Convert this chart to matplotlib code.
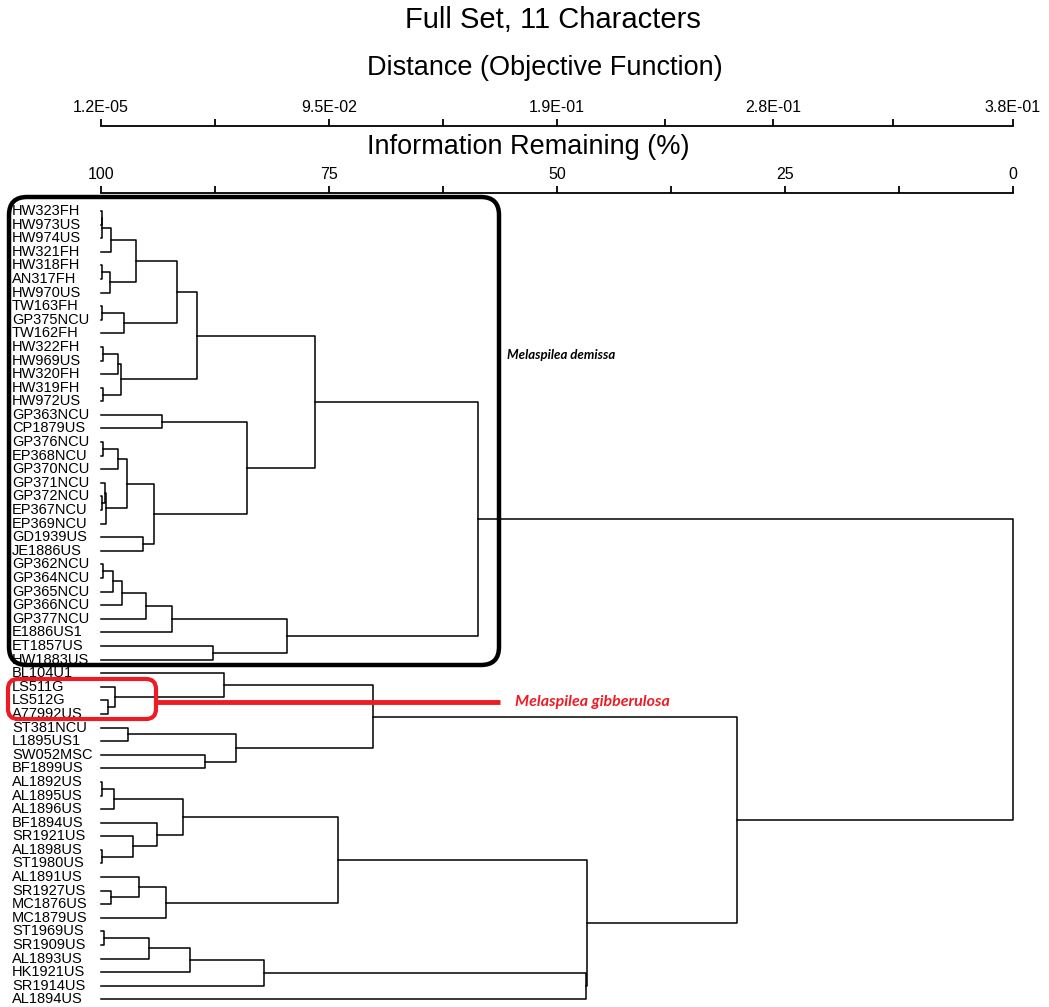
import matplotlib
matplotlib.use('Agg')
import matplotlib.pyplot as plt
from matplotlib.patches import FancyBboxPatch
from matplotlib.transforms import blended_transform_factory

plt.rcParams['font.family'] = ['Liberation Sans', 'DejaVu Sans']

leaf_labels = [
    'HW323FH', 'HW973US', 'HW974US', 'HW321FH', 'HW318FH', 'AN317FH',
    'HW970US', 'TW163FH', 'GP375NCU', 'TW162FH', 'HW322FH', 'HW969US',
    'HW320FH', 'HW319FH', 'HW972US', 'GP363NCU', 'CP1879US', 'GP376NCU',
    'EP368NCU', 'GP370NCU', 'GP371NCU', 'GP372NCU', 'EP367NCU', 'EP369NCU',
    'GD1939US', 'JE1886US', 'GP362NCU', 'GP364NCU', 'GP365NCU', 'GP366NCU',
    'GP377NCU', 'E1886US1', 'ET1857US', 'HW1883US', 'BL104U1', 'LS511G',
    'LS512G', 'A77992US', 'ST381NCU', 'L1895US1', 'SW052MSC', 'BF1899US',
    'AL1892US', 'AL1895US', 'AL1896US', 'BF1894US', 'SR1921US', 'AL1898US',
    'ST1980US', 'AL1891US', 'SR1927US', 'MC1876US', 'MC1879US', 'ST1969US',
    'SR1909US', 'AL1893US', 'HK1921US', 'SR1914US', 'AL1894US',
]

# agglomeration steps: leaves are 0..58, each merge makes node 59, 60, ...
merge_a = [0, 59, 60, 4, 62, 61, 7, 65, 64, 10, 68, 13, 69, 67, 15, 17, 74,
           21, 20, 77, 75, 24, 79, 73, 72, 26, 84, 85, 86, 87, 32, 88, 83,
           36, 35, 34, 38, 40, 95, 94, 42, 99, 47, 46, 45, 100, 50, 49, 106,
           104, 53, 109, 110, 111, 112, 108, 98, 91]
merge_b = [1, 2, 3, 5, 6, 63, 8, 9, 66, 11, 12, 14, 70, 71, 16, 18, 19,
           22, 76, 23, 78, 25, 80, 81, 82, 27, 28, 29, 30, 31, 33, 89, 90,
           37, 92, 93, 39, 41, 96, 97, 43, 44, 48, 101, 102, 103, 51, 105, 52,
           107, 54, 55, 56, 57, 58, 113, 114, 115]
# information remaining (%) at each merge
merge_info = [99.92, 99.84, 98.9, 99.9, 99.0, 96.2, 99.9, 97.48, 91.7,
              99.78, 98.17, 99.78, 97.8, 89.5, 93.34, 99.78, 98.14,
              99.92, 99.55, 99.4, 97.18, 95.36, 94.16, 84.0, 76.5,
              99.78, 98.65, 97.73, 95.07, 92.18, 87.7, 79.6, 58.7,
              99.2, 98.46, 86.5, 97.0, 88.6, 85.2, 70.2,
              99.92, 98.54, 99.84, 96.52, 93.9, 91.04, 98.9, 95.8, 92.87,
              74.0, 99.67, 94.7, 90.24, 82.1, 46.8, 46.7, 30.3, 0.0]

info_ticks = [100, 75, 50, 25, 0]
dist_ticks = [1.2e-05, 9.5e-02, 1.9e-01, 2.8e-01, 3.8e-01]

W, H = 1049, 1007
fig = plt.figure(figsize=(W / 100, H / 100), dpi=100)

# main dendrogram axes
ax = fig.add_axes([101 / W, (H - 1005) / H, 912 / W, 808 / H])
ax.set_xlim(100, 0)
ax.set_ylim(58.41, -1.03)
ax.axis('off')

n = len(leaf_labels)
node_y = list(range(n))
node_h = [100.0] * n
for a, b, h in zip(merge_a, merge_b, merge_info):
    ax.plot([node_h[a], h, h, node_h[b]],
            [node_y[a], node_y[a], node_y[b], node_y[b]],
            color='black', lw=1.1, clip_on=False)
    node_y.append((node_y[a] + node_y[b]) / 2)
    node_h.append(h)

trans = blended_transform_factory(fig.transFigure, ax.transData)
for i, lab in enumerate(leaf_labels):
    ax.text(12 / W, i, lab, transform=trans, ha='left', va='center',
            fontsize=10.5, color='black')


def scale_axis(ypix, lim, major, labels):
    a = fig.add_axes([101 / W, 1 - ypix / H, 912 / W, 1e-4])
    a.set_xlim(*lim)
    a.patch.set_visible(False)
    for s in ['left', 'right', 'bottom']:
        a.spines[s].set_visible(False)
    a.spines['top'].set_linewidth(1.3)
    a.xaxis.tick_top()
    a.set_yticks([])
    a.set_xticks(major)
    a.set_xticklabels(labels)
    a.set_xticks([(major[k] + major[k + 1]) / 2
                  for k in range(len(major) - 1)], minor=True)
    a.tick_params(axis='x', which='both', direction='out', length=5,
                  width=1.3, pad=3, labelsize=11.5)
    return a


scale_axis(193, (100, 0), info_ticks, [str(v) for v in info_ticks])
scale_axis(126, (dist_ticks[0], dist_ticks[-1]), dist_ticks,
           ['%.1E' % v for v in dist_ticks])

fig.text(553 / W, 1 - 20 / H, 'Full Set, 11 Characters', ha='center',
         va='center', fontsize=21)
fig.text(545 / W, 1 - 68 / H, 'Distance (Objective Function)', ha='center',
         va='center', fontsize=19.5)
fig.text(528 / W, 1 - 147 / H, 'Information Remaining (%)', ha='center',
         va='center', fontsize=19.5)

# overlay in pixel space for the highlight boxes
ov = fig.add_axes([0, 0, 1, 1])
ov.set_xlim(0, W)
ov.set_ylim(H, 0)
ov.axis('off')
ov.patch.set_visible(False)
red = '#ed1c24'
ov.add_patch(FancyBboxPatch((9, 197), 490, 468,
                            boxstyle='round,pad=0,rounding_size=18',
                            fill=False, lw=3.2, ec='black'))
ov.add_patch(FancyBboxPatch((8, 679), 148, 40,
                            boxstyle='round,pad=0,rounding_size=10',
                            fill=False, lw=3, ec=red))
ov.plot([156, 500], [702, 702], color=red, lw=3.5, solid_capstyle='butt')
ov.text(507, 355, 'Melaspilea demissa', ha='left', va='center',
        fontsize=9.5, fontweight='bold', fontstyle='italic',
        family=['Lato', 'DejaVu Sans'])
ov.text(515, 702, 'Melaspilea gibberulosa', ha='left', va='center',
        fontsize=11.5, fontweight='bold', fontstyle='italic', color=red,
        family=['Lato', 'DejaVu Sans'])

fig.savefig('out.png', dpi=100)
